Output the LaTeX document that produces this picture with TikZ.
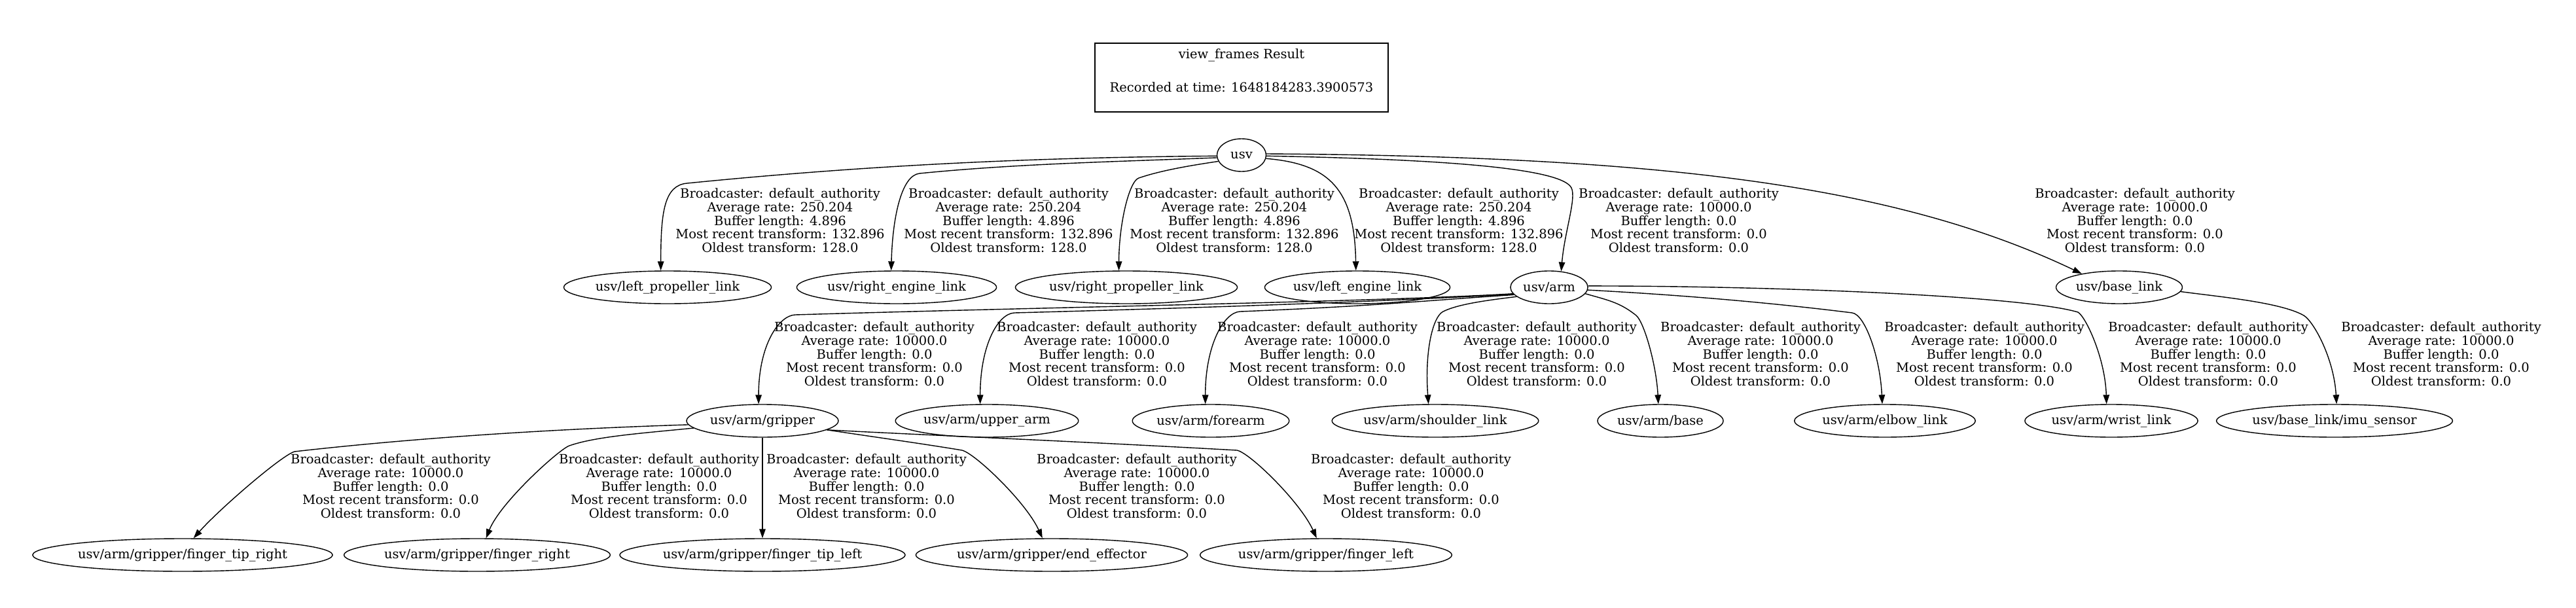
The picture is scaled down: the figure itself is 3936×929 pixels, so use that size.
\documentclass[tikz,border=0pt]{standalone}
\usepackage{fontspec}
\setmainfont{DejaVu Serif}
\usetikzlibrary{arrows.meta, positioning, shapes.geometric}

\newcommand\infoprop{Broadcaster: default\_authority\\Average rate: 250.204\\Buffer length: 4.896\\Most recent transform: 132.896\\Oldest transform: 128.0}
\newcommand\infozero{Broadcaster: default\_authority\\Average rate: 10000.0\\Buffer length: 0.0\\Most recent transform: 0.0\\Oldest transform: 0.0}

\begin{document}
\begin{tikzpicture}[x=1pt,y=-1pt,on grid,>={Triangle[length=14pt,width=9.5pt]},
      font=\fontsize{19.5pt}{20.7pt}\selectfont,
      every node/.style={inner sep=0pt},
      tfnode/.style={ellipse,draw,line width=1.4pt,minimum width=75pt,minimum height=50pt,inner xsep=2pt},
      tfinfo/.style={align=center},
      tfedge/.style={->,line width=1.4pt},
      titlebox/.style={draw,line width=2.8pt,minimum width=448pt,minimum height=105pt}]
      \path[use as bounding box,fill=white] (0,0) rectangle (3936,929);
      % title
      \node[titlebox] (title) at (1897,118.5) {};
      \node[tfinfo] (titletext) at (1897,107.5) {view\_frames Result\\[30.3pt]Recorded at time: 1648184283.3900573};
      % frames
      \node[tfnode] (usv) at (1897,237) {usv};
      \node[tfnode] (lpl) [below left=202pt and 877pt of usv] {usv/left\_propeller\_link};
      \node[tfnode] (rel) [right=350pt of lpl] {usv/right\_engine\_link};
      \node[tfnode] (rpl) [right=351pt of rel] {usv/right\_propeller\_link};
      \node[tfnode] (lel) [right=353pt of rpl] {usv/left\_engine\_link};
      \node[tfnode] (arm) [right=293pt of lel] {usv/arm};
      \node[tfnode] (base) [right=871pt of arm] {usv/base\_link};
      \node[tfnode] (grip) [below left=204pt and 1202pt of arm] {usv/arm/gripper};
      \node[tfnode] (upper) [right=343pt of grip] {usv/arm/upper\_arm};
      \node[tfnode] (fore) [right=342pt of upper] {usv/arm/forearm};
      \node[tfnode] (shoulder) [right=343pt of fore] {usv/arm/shoulder\_link};
      \node[tfnode] (abase) [right=344pt of shoulder] {usv/arm/base};
      \node[tfnode] (elbow) [right=343pt of abase] {usv/arm/elbow\_link};
      \node[tfnode] (wrist) [right=346pt of elbow] {usv/arm/wrist\_link};
      \node[tfnode] (imu) [below right=204pt and 329pt of base] {usv/base\_link/imu\_sensor};
      \node[tfnode] (ftl) [below=205pt of grip] {usv/arm/gripper/finger\_tip\_left};
      \node[tfnode] (ftr) [left=886pt of ftl] {usv/arm/gripper/finger\_tip\_right};
      \node[tfnode] (fr) [left=436pt of ftl] {usv/arm/gripper/finger\_right};
      \node[tfnode] (ee) [right=442pt of ftl] {usv/arm/gripper/end\_effector};
      \node[tfnode] (fl) [right=419pt of ee] {usv/arm/gripper/finger\_left};
      % transform info
      \node[tfinfo] (i-lpl) [above right=102pt and 172pt of lpl] {\infoprop};
      \node[tfinfo] (i-rel) [above right=102pt and 171pt of rel] {\infoprop};
      \node[tfinfo] (i-rpl) [above right=102pt and 165pt of rpl] {\infoprop};
      \node[tfinfo] (i-lel) [above right=102pt and 155pt of lel] {\infoprop};
      \node[tfinfo] (i-arm) [above right=102pt and 198pt of arm] {\infozero};
      \node[tfinfo] (i-base) [above right=102pt and 24pt of base] {\infozero};
      \node[tfinfo] (i-grip) [above right=102pt and 171pt of grip] {\infozero};
      \node[tfinfo] (i-upper) [above right=102pt and 168pt of upper] {\infozero};
      \node[tfinfo] (i-fore) [above right=102pt and 163pt of fore] {\infozero};
      \node[tfinfo] (i-shoulder) [above right=102pt and 155pt of shoulder] {\infozero};
      \node[tfinfo] (i-abase) [above right=102pt and 153pt of abase] {\infozero};
      \node[tfinfo] (i-elbow) [above right=102pt and 152pt of elbow] {\infozero};
      \node[tfinfo] (i-wrist) [above right=102pt and 148pt of wrist] {\infozero};
      \node[tfinfo] (i-imu) [above right=102pt and 163pt of imu] {\infozero};
      \node[tfinfo] (i-ftr) [above right=105pt and 318pt of ftr] {\infozero};
      \node[tfinfo] (i-fr) [above right=105pt and 278pt of fr] {\infozero};
      \node[tfinfo] (i-ftl) [above right=105pt and 159pt of ftl] {\infozero};
      \node[tfinfo] (i-ee) [above right=105pt and 130pt of ee] {\infozero};
      \node[tfinfo] (i-fl) [above right=105pt and 130pt of fl] {\infozero};
      % transforms
      \draw[tfedge] (usv.182) .. controls +(-250,2) and +(300,-30) .. (1050,280) .. controls +(-35,3) and +(0,-90) .. (lpl.112);
      \draw[tfedge] (usv.186) .. controls +(-150,6) and +(150,-15) .. (1405,265) .. controls +(-28,3) and +(2,-80) .. (rel.108);
      \draw[tfedge] (usv.195) .. controls +(-40,6) and +(35,-12) .. (1740,272) .. controls +(-15,5) and +(0,-70) .. (rpl.114);
      \draw[tfedge] (usv.352) .. controls +(96,8) and +(-2,-125) .. (lel.95);
      \draw[tfedge] (usv.358) .. controls +(270,5) and +(-15,-30) .. (2401,287) .. controls +(8,16) and +(5,-60) .. (arm.53);
      \draw[tfedge] (usv.3) .. controls +(616,4) and +(-279,-133) .. (base.160);
      \draw[tfedge] (arm.190) .. controls +(-200,12) and +(400,-12) .. (1215,481) .. controls +(-25,1) and +(0,-90) .. (grip.103);
      \draw[tfedge] (arm.191) .. controls +(-200,11) and +(300,-8) .. (1550,478) .. controls +(-25,1) and +(0,-90) .. (upper.112);
      \draw[tfedge] (arm.192) .. controls +(-150,10) and +(200,-8) .. (1895,476) .. controls +(-25,1) and +(0,-90) .. (fore.108);
      \draw[tfedge] (arm.196) .. controls +(-40,5) and +(24,-12) .. (2205,476) .. controls +(-16,8) and +(-6,-80) .. (shoulder.112);
      \draw[tfedge] (arm.350) .. controls +(35,10) and +(-25,-20) .. (2500,482) .. controls +(12,10) and +(-3,-60) .. (abase.97);
      \draw[tfedge] (arm.356) .. controls +(150,8) and +(-120,-15) .. (2830,478) .. controls +(20,2.5) and +(-3,-70) .. (elbow.99);
      \draw[tfedge] (arm.2) .. controls +(300,0) and +(-80,-24) .. (3175,477) .. controls +(12,7) and +(-2,-70) .. (wrist.106);
      \draw[tfedge] (base.356) .. controls +(60,8) and +(-35,-20) .. (3520,482) .. controls +(15,9) and +(-4,-70) .. (imu.83);
      \draw[tfedge] (grip.183) .. controls +(-250,8) and +(150,-17) .. (450,690) .. controls +(-20,6) and +(40,-45) .. (ftr.57);
      \draw[tfedge] (grip.186) .. controls +(-80,8) and +(40,-14) .. (870,681) .. controls +(-15,5) and +(22,-55) .. (fr.62);
      \draw[tfedge] (grip) -- (ftl);
      \draw[tfedge] (grip.352) .. controls +(80,12) and +(-60,-10) .. (1470,688) .. controls +(20,5) and +(-25,-55) .. (ee.119);
      \draw[tfedge] (grip.352) .. controls +(150,8) and +(-250,-14) .. (1890,688) .. controls +(20,4) and +(-25,-55) .. (fl.119);
\end{tikzpicture}
\end{document}
